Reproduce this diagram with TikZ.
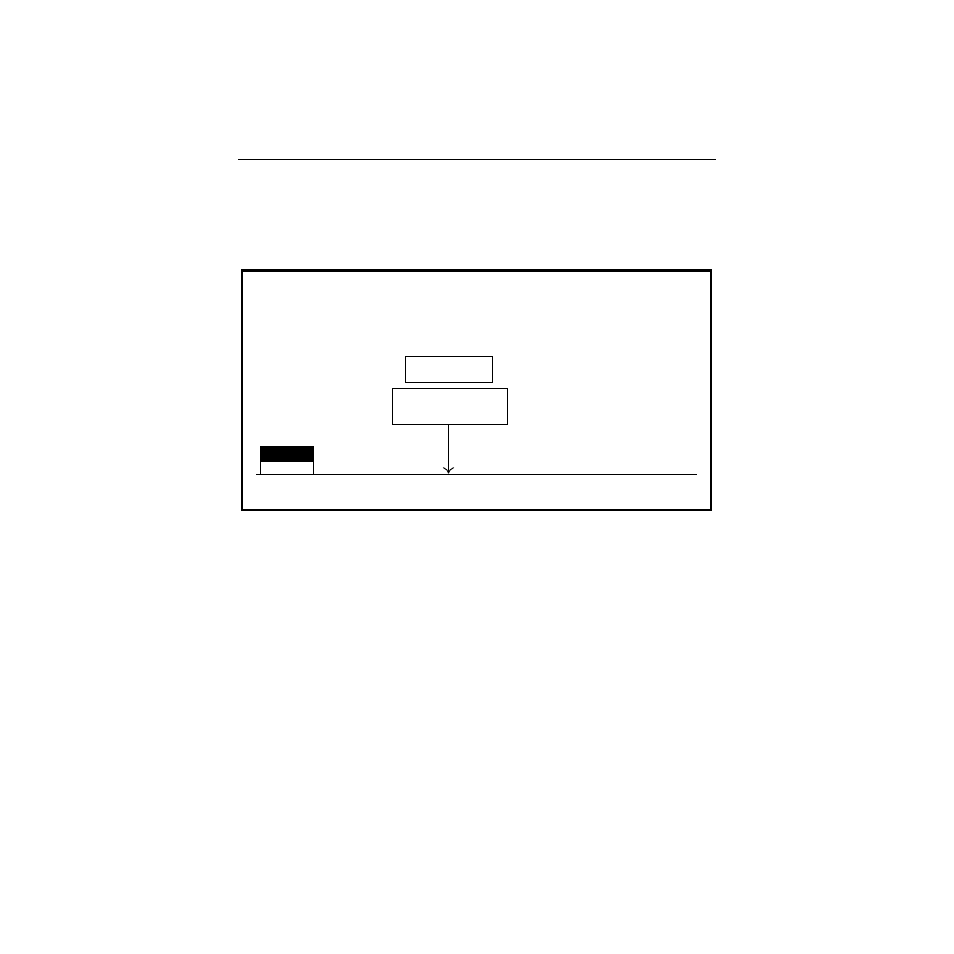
\documentclass[tikz,border=0pt]{standalone}
\usetikzlibrary{arrows.meta}
\begin{document}
\begin{tikzpicture}[x=0.25mm,y=-0.25mm,
  thin line/.style={line width=0.7pt},
  boxnode/.style={draw,thin line,fill=white,inner sep=0pt,outer sep=0pt,anchor=north west},
  frame/.style={line width=1.5pt}]
\useasboundingbox (0,0) rectangle (954,954);
% top rule
\coordinate (tl) at (238,159.5);
\coordinate (tr) at (716,159.5);
\draw[thin line] (tl) -- (tr);
% outer frame
\node[draw,frame,inner sep=0pt,outer sep=0pt,anchor=north west,minimum width=469*0.25mm,minimum height=239.5*0.25mm] (frame) at (242,270.5) {};
% boxes
\node[boxnode,minimum width=87*0.25mm,minimum height=26*0.25mm] (b1) at (405.5,356) {};
\node[boxnode,minimum width=114.5*0.25mm,minimum height=36*0.25mm] (b2) at (392.5,388.5) {};
% baseline
\coordinate (bl) at (256,474.5);
\coordinate (br) at (697,474.5);
\draw[thin line] (bl) -- (br);
% small stacked block
\node[draw,thin line,fill=black,inner sep=0pt,outer sep=0pt,anchor=north west,minimum width=52.5*0.25mm,minimum height=14.5*0.25mm] (blk) at (260.5,446.5) {};
\node[boxnode,minimum width=52.5*0.25mm,minimum height=13.5*0.25mm] (wht) at (260.5,461) {};
% arrow
\coordinate (arrend) at (448.5,473.5);
\draw[thin line,-{To[length=4.5pt,width=8pt]}] (b2.south -| arrend) -- (arrend);
\end{tikzpicture}
\end{document}
